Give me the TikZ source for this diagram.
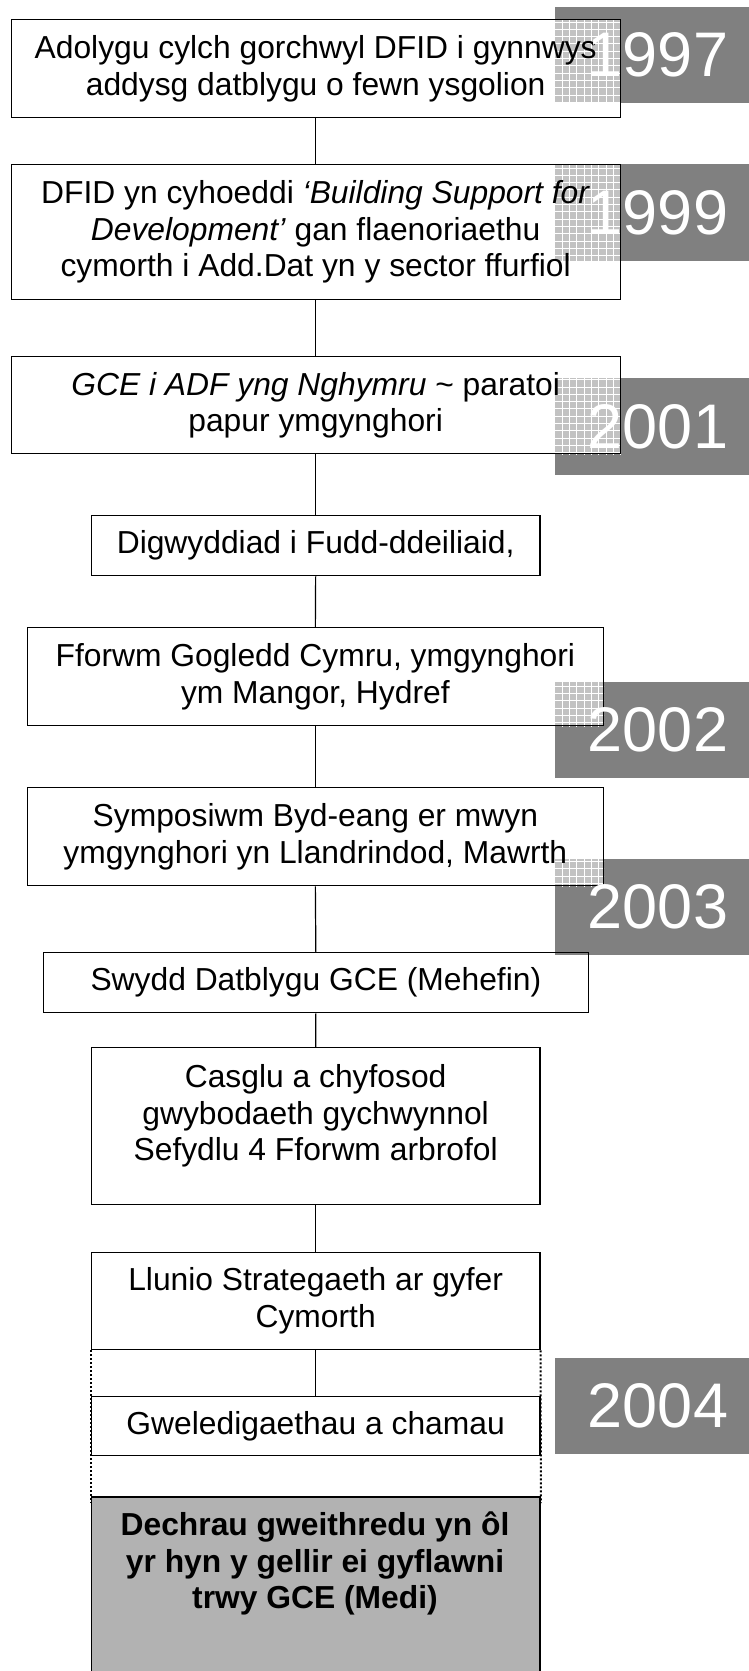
\documentclass[tikz,border=0pt]{standalone}
\usepackage{fontspec}
\setmainfont{Liberation Sans}[Ligatures=NoCommon]
\pgfdeclarelayer{bg}
\pgfdeclarelayer{hatch}
\pgfsetlayers{bg,hatch,main}
\definecolor{yeargray}{RGB}{128,128,128}
\definecolor{hatchgray}{RGB}{194,194,194}
\definecolor{boxgray}{RGB}{178,178,178}
\newcommand\hatchbox[2]{%
  \begin{scope}
    \clip #1 rectangle #2;
    \fill[hatchgray] #1 rectangle #2;
    \draw[hatchgrid] (540,0) grid[xstep=7.3pt,ystep=7.3pt] (640,1000);
  \end{scope}}
\begin{document}
\begin{tikzpicture}[x=1pt,y=-1pt,
  box/.style={draw=black, line width=1.3pt, inner sep=0pt, align=center, anchor=north west,
    font=\fontsize{31.8}{36.5}\selectfont},
  year/.style={text=white, inner sep=0pt, minimum width=206pt, minimum height=96.5pt,
    font=\fontsize{63}{63}\selectfont},
  conn/.style={draw=black, line width=1.2pt},
  dotline/.style={draw=black, line width=2pt, dash pattern=on 2pt off 2pt},
  hatchgrid/.style={draw=white, line width=0.8pt}]
\useasboundingbox (0,0) rectangle (749,1671);
\clip (0,0) rectangle (749,1671);

% main boxes
\node[box, minimum width=609pt, minimum height=98pt] (b1) at (10.5,19)
  {Adolygu cylch gorchwyl DFID i gynnwys\\addysg datblygu o fewn ysgolion};
\node[box, minimum width=609pt, minimum height=135pt] (b2) at (10.5,164)
  {DFID yn cyhoeddi \textit{‘Building Support for}\\\textit{Development’} gan flaenoriaethu\\cymorth i Add.Dat yn y sector ffurfiol};
\node[box, minimum width=609pt, minimum height=97pt] (b3) at (10.5,356)
  {\textit{GCE i ADF yng Nghymru} \textasciitilde{} paratoi\\papur ymgynghori};
\node[box, minimum width=448.6pt, minimum height=60pt] (b4) at (90.7,515)
  {Digwyddiad i Fudd-ddeiliaid,};
\node[box, minimum width=576pt, minimum height=98pt] (b5) at (26.7,627)
  {Fforwm Gogledd Cymru, ymgynghori\\ym Mangor, Hydref};
\node[box, minimum width=576pt, minimum height=98pt] (b6) at (26.7,787)
  {Symposiwm Byd-eang er mwyn\\ymgynghori yn Llandrindod, Mawrth};
\node[box, minimum width=545pt, minimum height=60pt] (b7) at (42.7,952)
  {Swydd Datblygu GCE (Mehefin)};
\node[box, minimum width=448.6pt, minimum height=156.6pt] (b8) at (90.7,1047)
  {Casglu a chyfosod\\gwybodaeth gychwynnol\\Sefydlu 4 Fforwm arbrofol\\[-10pt]\mbox{}};
\node[box, minimum width=448.6pt, minimum height=97.5pt] (b9) at (90.7,1251.5)
  {Llunio Strategaeth ar gyfer\\Cymorth};
\node[box, minimum width=448.6pt, minimum height=59pt] (b10) at (90.7,1396)
  {Gweledigaethau a chamau};
\node[box, fill=boxgray, line width=1.6pt, minimum width=448.6pt, minimum height=260pt] (b11) at (90.7,1496) {};
\node[anchor=north, inner sep=0pt, align=center, font=\bfseries\fontsize{31.8}{36.7}\selectfont] (t11) at (315,1511.5)
  {Dechrau gweithredu yn ôl\\yr hyn y gellir ei gyflawni\\trwy GCE (Medi)};

% year labels
\node[year] (y1) at (658,55) {1997};
\node[year] (y2) at (658,212.5) {1999};
\node[year] (y3) at (658,426.5) {2001};
\node[year] (y4) at (658,730) {2002};
\node[year] (y5) at (658,907) {2003};
\node[year] (y6) at (658,1406) {2004};

% connectors
\foreach \a/\b in {b1/b2,b2/b3,b3/b4,b4/b5,b5/b6,b6/b7,b7/b8,b8/b9,b9/b10}
  \draw[conn] (\a.south) -- (\b.north);
\draw[dotline] (b9.south west) -- ([yshift=-7pt]b11.north west);
\draw[dotline] (b9.south east) -- ([yshift=-7pt]b11.north east);

\begin{pgfonlayer}{bg}
  \fill[white] (0,0) rectangle (749,1671);
  \foreach \n in {y1,y2,y3,y4,y5,y6}
    \fill[yeargray] (\n.north west) rectangle (\n.south east);
\end{pgfonlayer}
\begin{pgfonlayer}{hatch}
  \hatchbox{(y1.west |- b1.north)}{(b1.east |- y1.south)}
  \hatchbox{(y2.west |- b2.north)}{(b2.east |- y2.south)}
  \hatchbox{(y3.north west)}{(b3.south east)}
  \hatchbox{(y4.north west)}{(b5.south east)}
  \hatchbox{(y5.north west)}{(b6.south east)}
\end{pgfonlayer}
\end{tikzpicture}
\end{document}
